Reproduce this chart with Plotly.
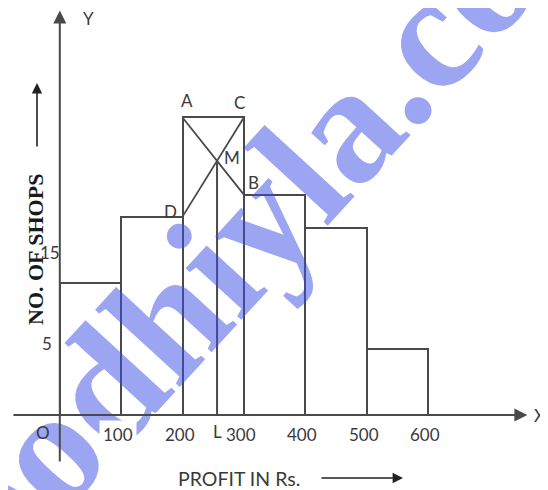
import plotly.graph_objects as go

# ---- data ----
class_edges = [0, 100, 200, 300, 400, 500, 600]
shops = [12, 18, 27, 20, 17, 6]
x_tick_values = [100, 200, 300, 400, 500, 600]
x_tick_labels = ["100", "200", "300", "400", "500", "600"]
y_tick_values = [15, 5]
y_tick_labels = ["15", "5"]

centers = [(a + b) / 2 for a, b in zip(class_edges[:-1], class_edges[1:])]
widths = [b - a for a, b in zip(class_edges[:-1], class_edges[1:])]

# modal class construction
k = shops.index(max(shops))
l_edge = class_edges[k]
h = widths[k]
f1, f0, f2 = shops[k], shops[k - 1], shops[k + 1]
mode = l_edge + (f1 - f0) / (2 * f1 - f0 - f2) * h
m_y = f1 - (f1 - f2) * (mode - l_edge) / h
A = (l_edge, f1)
C = (l_edge + h, f1)
D = (l_edge, f0)
B = (l_edge + h, f2)

LINE = "#4a4a4a"
TXT = "#3a3a3a"
SANS = "Lato, 'Open Sans', sans-serif"

# the page body adds an 8px margin; size the figure to the visible area
OFF = 8
W, H = 548 - 2 * OFF, 490 - OFF
X0, XS = 51.8, 0.6136   # pixel position of x=0 (figure coords) and pixels per unit
Y0, YS = 407, 11.02


def px(xp):
    return (xp - OFF) / W


def py(yp):
    return 1 - (yp - OFF) / H


fig = go.Figure(
    go.Bar(
        x=centers, y=shops, width=widths,
        marker=dict(color="rgba(0,0,0,0)", line=dict(color=LINE, width=2)),
        hoverinfo="skip",
    )
)

shapes = [
    dict(type="line", x0=A[0], y0=A[1], x1=B[0], y1=B[1], line=dict(color=LINE, width=1.8)),
    dict(type="line", x0=D[0], y0=D[1], x1=C[0], y1=C[1], line=dict(color=LINE, width=1.8)),
    dict(type="line", x0=mode, y0=m_y, x1=mode, y1=0, line=dict(color=LINE, width=2)),
]

ann = []


def text_ann(x, y, text, size=16, family=SANS, color=TXT, **kw):
    d = dict(xref="paper", yref="paper", x=px(x), y=py(y), text=text, showarrow=False,
             xanchor="center", yanchor="middle", font=dict(family=family, size=size, color=color))
    d.update(kw)
    return d


# watermark
ann.append(text_ann(233, 246, "<b>oodhiyla.co</b>", size=165, family="Liberation Serif",
                    color="rgba(55,75,228,0.5)", textangle=-47.5))
# axes arrows
ann.append(dict(x=762, y=0, ax=-78, ay=0, xref="x", yref="y", axref="x", ayref="y", text="",
                showarrow=True, arrowhead=2, arrowsize=1.3, arrowwidth=2, arrowcolor=LINE))
ann.append(dict(x=0, y=36.7, ax=0, ay=-4.36, xref="x", yref="y", axref="x", ayref="y", text="",
                showarrow=True, arrowhead=2, arrowsize=1.3, arrowwidth=2, arrowcolor=LINE))
# title arrows
ann.append(dict(xref="paper", yref="paper", x=px(403), y=py(478), ax=-83, ay=0, text="",
                showarrow=True, arrowhead=2, arrowsize=1.3, arrowwidth=1.6, arrowcolor="#222"))
ann.append(dict(xref="paper", yref="paper", x=px(37), y=py(83), ax=0, ay=65, text="",
                showarrow=True, arrowhead=2, arrowsize=1.3, arrowwidth=1.6, arrowcolor="#222"))
# titles
ann.append(text_ann(35, 250, "<b>NO. OF SHOPS</b>", size=22, family="Liberation Serif",
                    color="#1a1a1a", textangle=-90))
ann.append(text_ann(239, 478, "PROFIT IN Rs.", size=19.5))
ann.append(text_ann(88, 18, "Y", size=17))
ann.append(text_ann(43, 432, "O", size=17))
# X axis letter, just past the arrow tip
ann.append(dict(x=(532 - OFF - X0) / XS, y=0, xref="x", yref="y", text="X", showarrow=False,
                xanchor="left", yanchor="middle", font=dict(family=SANS, size=17, color=TXT)))
# x tick labels
for v, t in zip(x_tick_values, x_tick_labels):
    extra = dict(bgcolor="white", borderpad=3) if t == "100" else {}
    ann.append(dict(x=v, y=0, xref="x", yref="y", text=t, showarrow=False, xshift=-3, yshift=-19,
                    xanchor="center", yanchor="middle",
                    font=dict(family=SANS, size=17, color=TXT), **extra))
# y tick labels
for v, t in zip(y_tick_values, y_tick_labels):
    ann.append(dict(x=0, y=v, xref="x", yref="y", text=t, showarrow=False,
                    xanchor="center", yanchor="middle",
                    xshift=-10 if len(t) > 1 else -13, yshift=-3 if len(t) > 1 else 16,
                    font=dict(family=SANS, size=17, color=TXT)))
# construction point labels
pts = [("A", A, 4, 17), ("C", C, -4, 15), ("M", (mode, m_y), 15, 3), ("B", B, 10, 12),
       ("D", D, -12, 5), ("L", (mode, 0), 0, -16)]
for name, (qx, qy), dx, dy in pts:
    ann.append(dict(x=qx, y=qy, xref="x", yref="y", text=name, showarrow=False, xshift=dx, yshift=dy,
                    xanchor="center", yanchor="middle",
                    font=dict(family=SANS, size=17, color=TXT)))

fig.update_layout(
    width=W, height=H,
    margin=dict(l=0, r=0, t=0, b=0),
    paper_bgcolor="white", plot_bgcolor="white",
    showlegend=False,
    xaxis=dict(range=[-X0 / XS, (W - X0) / XS], visible=False, fixedrange=True),
    yaxis=dict(range=[-(H - Y0) / YS, Y0 / YS], visible=False, fixedrange=True),
    shapes=shapes, annotations=ann,
    bargap=0,
)

fig.write_html("out.html", config={"displayModeBar": False})
